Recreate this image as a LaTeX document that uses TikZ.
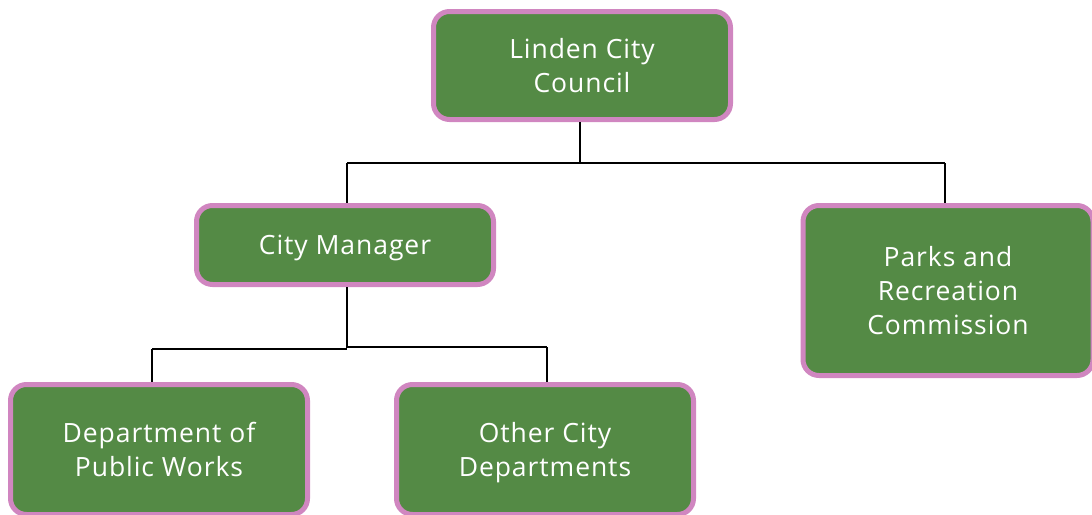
\documentclass[tikz,border=0pt]{standalone}
\usepackage{fontspec}
\setmainfont{Open Sans}
\newfontfamily\boxfont[LetterSpace=3.5]{Open Sans}
\definecolor{boxgreen}{HTML}{548A45}
\definecolor{boxpink}{HTML}{D086C0}
\tikzset{
  orgbox/.style={draw=boxpink, fill=boxgreen, line width=5pt, rounded corners=16pt,
    text=white, align=center, inner sep=0pt, text depth=0pt,
    font=\boxfont\fontsize{26.5}{34}\selectfont},
  link/.style={draw=black, line width=1.6pt}
}
\begin{document}
\begin{tikzpicture}[x=1pt,y=-1pt]
\useasboundingbox (0,0) rectangle (1092,514);
\node[orgbox, minimum width=297pt, minimum height=108pt] (council) at (582,65.5) {Linden City\\Council};
\node[orgbox, minimum width=297pt, minimum height=79pt] (mgr) at (345,245) {City Manager};
\node[orgbox, minimum width=290pt, minimum height=170pt] (parks) at (948,290.5) {Parks and\\Recreation\\Commission};
\node[orgbox, minimum width=297pt, minimum height=130pt] (dpw) at (159,449.5) {Department of\\Public Works};
\node[orgbox, minimum width=297pt, minimum height=130pt] (other) at (545,449.5) {Other City\\Departments};
\coordinate (j1) at (580,163);
\coordinate (j2) at (347,348);
\draw[link] (council.south -| j1) -- (j1);
\draw[link] (347,163) -- (945,163);
\draw[link] (347,163) -- (mgr.north -| 347,0);
\draw[link] (945,163) -- (parks.north -| 945,0);
\draw[link] (mgr.south -| j2) -- (j2);
\draw[link] (152,349) -- (347,349);
\draw[link] (347,347) -- (547,347);
\draw[link] (152,349) -- (dpw.north -| 152,0);
\draw[link] (547,347) -- (other.north -| 547,0);
\end{tikzpicture}
\end{document}
